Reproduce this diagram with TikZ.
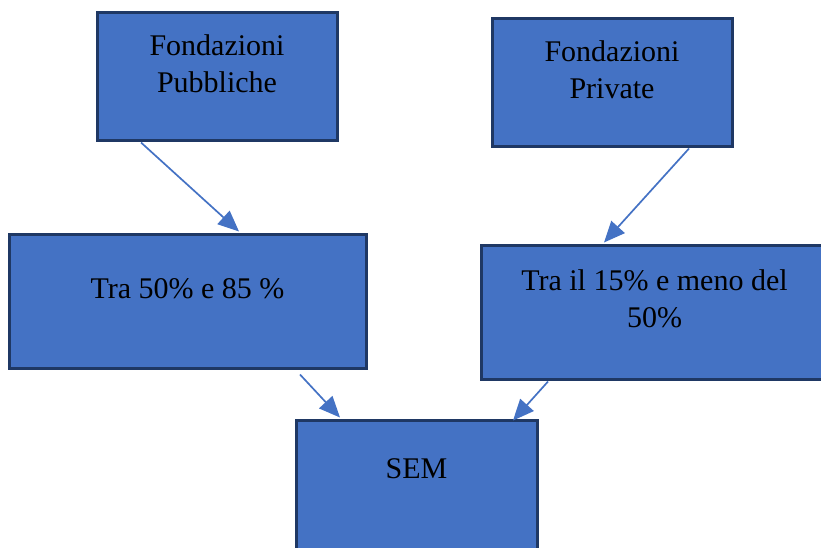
\documentclass[tikz,border=0pt]{standalone}
\usepackage{fontspec}
\setmainfont{Liberation Serif}
\usetikzlibrary{arrows.meta,calc,positioning}
\definecolor{boxfill}{HTML}{4472C4}
\definecolor{boxline}{HTML}{1F3864}
\tikzset{>={Triangle[length=21pt,width=18pt]},
  every node/.style={font=\fontsize{30}{37}\selectfont},
  link/.style={->,draw=boxfill,fill=boxfill,line width=1.7pt},
  caption/.style={align=center,inner sep=0pt}}
\begin{document}
\begin{tikzpicture}[x=1pt,y=-1pt,block/.style={draw=boxline,fill=boxfill,line width=3pt,minimum width=240pt,minimum height=128pt,inner sep=0pt}]
\useasboundingbox (0,0) rectangle (821,547);
\node[block] (pub) at (217,76) {};
\node[block] (priv) at (612,82) {};
\node[block,minimum width=357pt,minimum height=134pt] (low) at (187.5,301) {};
\node[block,minimum width=357pt,minimum height=134pt] (high) at (659.5,312) {};
\node[block,minimum width=241pt,minimum height=135pt] (sem) at (416.5,487.5) {};
\node[caption] (pubtext) at ([yshift=-53pt]pub.north) {Fondazioni\\Pubbliche};
\node[caption] (privtext) at ([yshift=-53pt]priv.north) {Fondazioni\\Private};
\node[caption] (lowtext) at ([yshift=-56pt]low.north) {Tra 50\% e 85 \%};
\node[caption] (hightext) at ([xshift=-5pt,yshift=-55pt]high.north) {Tra il 15\% e meno del\\50\%};
\node[caption] (semtext) at ([yshift=-50pt]sem.north) {SEM};
\draw[link] ([xshift=-76pt,yshift=-1pt]pub.south)--([xshift=51.5pt,yshift=1pt]low.north);
\draw[link] ([xshift=77pt,yshift=-1pt]priv.south)--([xshift=-55.5pt,yshift=1pt]high.north);
\draw[link] ([xshift=112.5pt,yshift=-5pt]low.south)--([xshift=-76.5pt,yshift=1pt]sem.north);
\draw[link] ([xshift=-111.5pt,yshift=-1pt]high.south)--([xshift=96.5pt,yshift=-2pt]sem.north);
\end{tikzpicture}
\end{document}
